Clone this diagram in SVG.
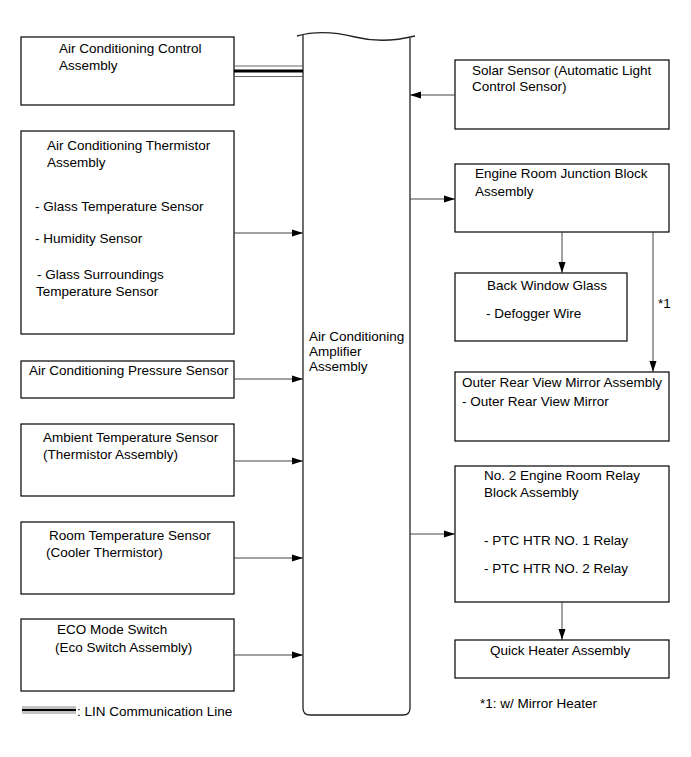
<svg xmlns="http://www.w3.org/2000/svg" width="691" height="757" viewBox="0 0 691 757">
<style>
text{font-family:"Liberation Sans",Arial,sans-serif;font-size:13.5px;fill:#000}
.box{fill:#fff;stroke:#000;stroke-width:1.2}
.con{fill:none;stroke:#444;stroke-width:1}
.col{fill:none;stroke:#222;stroke-width:1.3}
</style>
<defs>
<marker id="ah" markerUnits="userSpaceOnUse" markerWidth="11" markerHeight="8" refX="11" refY="4" orient="auto">
<path d="M0,0.5 L11,4 L0,7.5 z" fill="#000"/>
</marker>
</defs>
<rect width="691" height="757" fill="#fff"/>

<g id="amplifier">
<path class="col" d="M297,36 C315,31 335,32 355,37 C375,42 395,41 415,36"/>
<path class="col" d="M303,35 L303,708 Q303,715 310,715 L403,715 Q410,715 410,708 L410,38"/>
<text x="309" y="341">Air Conditioning</text>
<text x="309" y="356">Amplifier</text>
<text x="309" y="371">Assembly</text>
</g>

<g id="control">
<rect class="box" x="21" y="37" width="213" height="68"/>
<text x="59" y="53">Air Conditioning Control</text>
<text x="59" y="70">Assembly</text>
</g>

<g id="thermistor">
<rect class="box" x="21" y="131" width="213" height="203"/>
<text x="47" y="150">Air Conditioning Thermistor</text>
<text x="47" y="167">Assembly</text>
<text x="35" y="211">- Glass Temperature Sensor</text>
<text x="35" y="243">- Humidity Sensor</text>
<text x="37" y="279">- Glass Surroundings</text>
<text x="36" y="296">Temperature Sensor</text>
</g>

<g id="pressure">
<rect class="box" x="21" y="361" width="213" height="37"/>
<text x="29" y="375">Air Conditioning Pressure Sensor</text>
</g>

<g id="ambient">
<rect class="box" x="21" y="424" width="213" height="72"/>
<text x="43" y="442">Ambient Temperature Sensor</text>
<text x="43" y="459">(Thermistor Assembly)</text>
</g>

<g id="room">
<rect class="box" x="21" y="522" width="213" height="72"/>
<text x="49" y="540">Room Temperature Sensor</text>
<text x="46" y="557">(Cooler Thermistor)</text>
</g>

<g id="eco">
<rect class="box" x="21" y="619" width="213" height="72"/>
<text x="57" y="634">ECO Mode Switch</text>
<text x="55" y="652">(Eco Switch Assembly)</text>
</g>

<g id="solar">
<rect class="box" x="455" y="60" width="214" height="69"/>
<text x="472" y="75">Solar Sensor (Automatic Light</text>
<text x="472" y="91">Control Sensor)</text>
</g>

<g id="junction">
<rect class="box" x="455" y="164" width="214" height="68"/>
<text x="475" y="178">Engine Room Junction Block</text>
<text x="475" y="196">Assembly</text>
</g>

<g id="backwindow">
<rect class="box" x="455" y="273" width="172" height="68"/>
<text x="487" y="290">Back Window Glass</text>
<text x="486" y="318">- Defogger Wire</text>
</g>

<g id="mirror">
<rect class="box" x="455" y="372" width="214" height="69"/>
<text x="462" y="387">Outer Rear View Mirror Assembly</text>
<text x="462" y="406">- Outer Rear View Mirror</text>
</g>

<g id="relay">
<rect class="box" x="455" y="466" width="214" height="136"/>
<text x="484" y="480">No. 2 Engine Room Relay</text>
<text x="484" y="497">Block Assembly</text>
<text x="484" y="545">- PTC HTR NO. 1 Relay</text>
<text x="484" y="573">- PTC HTR NO. 2 Relay</text>
</g>

<g id="quickheater">
<rect class="box" x="455" y="640" width="214" height="38"/>
<text x="490" y="655">Quick Heater Assembly</text>
</g>

<g id="connectors">
<line x1="234" y1="66" x2="303" y2="66" stroke="#666" stroke-width="1"/>
<line x1="234" y1="71" x2="303" y2="71" stroke="#000" stroke-width="3"/>
<line x1="234" y1="76.5" x2="303" y2="76.5" stroke="#666" stroke-width="1"/>
<path class="con" marker-end="url(#ah)" d="M234,233 L303,233"/>
<path class="con" marker-end="url(#ah)" d="M234,379 L303,379"/>
<path class="con" marker-end="url(#ah)" d="M234,461 L303,461"/>
<path class="con" marker-end="url(#ah)" d="M234,558 L303,558"/>
<path class="con" marker-end="url(#ah)" d="M234,655 L303,655"/>
<path class="con" marker-end="url(#ah)" d="M455,95 L410,95"/>
<path class="con" marker-end="url(#ah)" d="M410,199 L455,199"/>
<path class="con" marker-end="url(#ah)" d="M410,534 L455,534"/>
<path class="con" marker-end="url(#ah)" d="M562,232 L562,273"/>
<path class="con" marker-end="url(#ah)" d="M653,232 L653,372"/>
<path class="con" marker-end="url(#ah)" d="M562,602 L562,640"/>
<text x="658" y="308">*1</text>
</g>

<g id="legend">
<line x1="22" y1="707" x2="76" y2="707" stroke="#888" stroke-width="1"/>
<line x1="22" y1="710" x2="76" y2="710" stroke="#000" stroke-width="2.5"/>
<line x1="22" y1="713" x2="76" y2="713" stroke="#888" stroke-width="1"/>
<text x="77" y="716">: LIN Communication Line</text>
<text x="480" y="708">*1: w/ Mirror Heater</text>
</g>
</svg>
